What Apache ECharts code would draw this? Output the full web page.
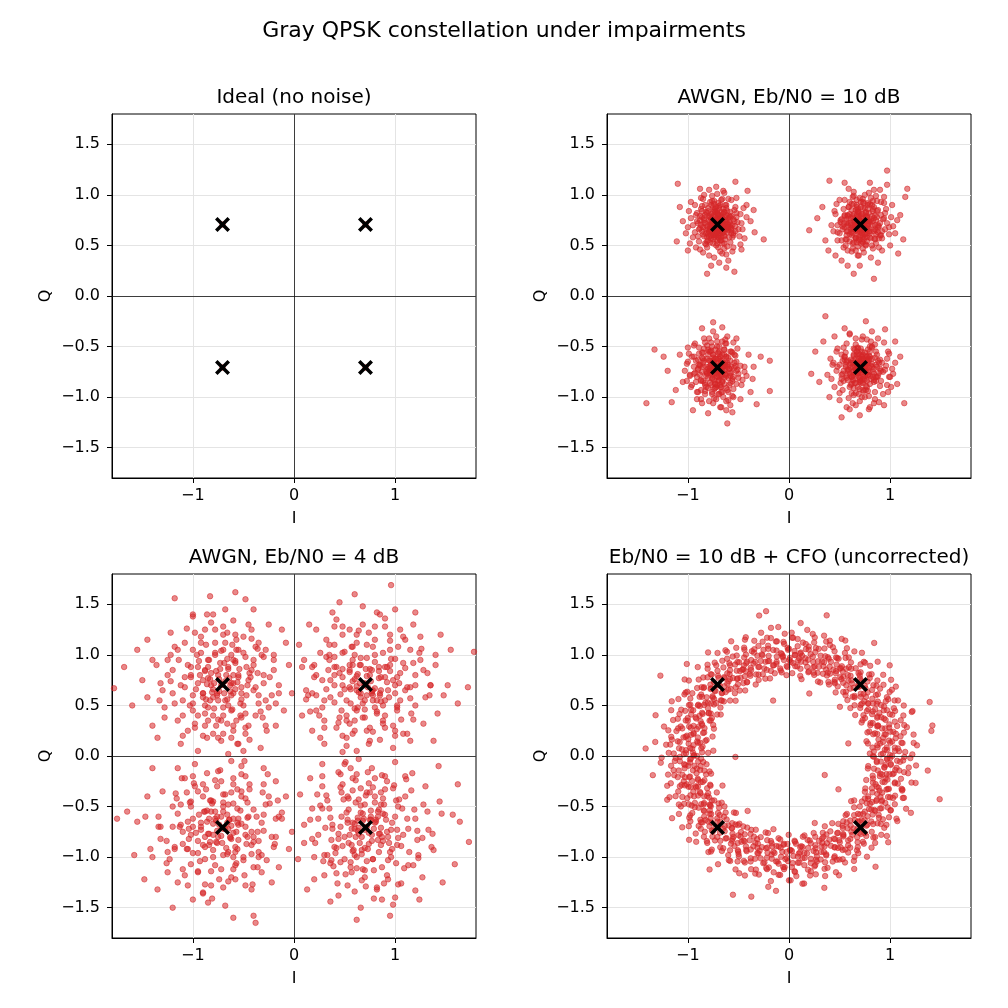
<!DOCTYPE html>
<html>
<head>
<meta charset="utf-8">
<script src="https://cdn.jsdelivr.net/npm/echarts@6/dist/echarts.min.js"></script>
<style>
html,body{margin:0;padding:0;background:#fff;}
#chart{width:1008px;height:1008px;}
</style>
</head>
<body>
<div id="chart"></div>
<script>
// ideal Gray QPSK points
const idealPts = [[0.707,0.707],[-0.707,0.707],[-0.707,-0.707],[0.707,-0.707]];

const xTicks = [-1, 0, 1];
const yTicks = [-1.5, -1, -0.5, 0, 0.5, 1, 1.5];

const panelTitles = ['Ideal (no noise)', 'AWGN, Eb/N0 = 10 dB', 'AWGN, Eb/N0 = 4 dB', 'Eb/N0 = 10 dB + CFO (uncorrected)'];

// AWGN 10 dB
const awgn10UL = [[-0.71,0.71],[-0.65,0.74],[-0.78,0.69],[-0.70,0.80],[-0.62,0.66],[-0.75,0.60],[-0.84,0.75],[-0.58,0.78],[-0.68,0.55],[-0.80,0.84],[-0.73,0.66],[-0.66,0.70],[-0.77,0.77],[-0.60,0.71],[-0.88,0.67],[-0.69,0.89],[-0.55,0.62],[-0.81,0.58],[-0.64,0.83],[-0.74,0.73],[-0.92,0.80],[-0.51,0.73],[-0.72,0.50],[-0.86,0.89],[-0.59,0.58],[-0.67,0.64],[-0.79,0.63],[-0.70,0.76],[-0.63,0.90],[-0.95,0.70],[-0.48,0.81],[-0.83,0.52],[-0.57,0.95],[-0.76,0.94],[-0.61,0.49],[-0.90,0.59],[-0.46,0.66],[-0.99,0.84],[-0.66,0.42],[-0.53,0.88],[-0.87,0.97],[-1.02,0.62],[-0.74,0.38],[-0.44,0.57],[-0.64,1.02],[-0.97,0.93],[-0.79,1.05],[-0.42,0.90],[-1.05,0.74],[-0.56,0.44],[-0.85,0.43],[-0.69,0.33],[-0.38,0.74],[-0.92,0.48],[-0.60,0.35],[-1.10,1.11],[-0.81,0.22],[-0.25,0.56],[-1.11,0.54],[-0.54,0.24],[-0.41,1.04],[-0.53,1.13],[-0.72,1.08],[-0.34,0.63],[-1.00,0.45],[-0.62,0.28],[-0.77,0.30],[-0.88,1.06],[-0.47,0.46],[-1.08,0.88],[-0.35,0.85],[-0.70,0.60],[-0.73,0.83],[-0.67,0.78],[-0.77,0.71],[-0.64,0.60],[-0.82,0.66],[-0.58,0.68],[-0.75,0.88],[-0.69,0.68],
[-.72,.69],[-.68,.73],[-.75,.74],[-.70,.66],[-.64,.69],[-.78,.71],[-.73,.78],[-.66,.77],[-.69,.62],[-.80,.66],[-.62,.74],[-.76,.63],[-.71,.82],[-.60,.65],[-.83,.72],[-.67,.58],[-.74,.85],[-.58,.71],[-.79,.79],[-.65,.81],
[-.86,.64],[-.71,.55],[-.55,.76],[-.82,.83],[-.63,.56],[-.77,.57],[-.69,.87],[-.57,.62],[-.88,.75],[-.73,.61],[-.61,.84],[-.84,.59],[-.66,.66],[-.75,.68],[-.70,.74],[-.79,.75],[-.63,.71],[-.72,.64],[-.68,.79],[-.77,.81],
[-.59,.79],[-.85,.68],[-.66,.52],[-.81,.54],[-.53,.69],[-.74,.91],[-.90,.72],[-.62,.90],[-.56,.58],[-.87,.86],[-.70,.48],[-.52,.82],[-.93,.63],[-.78,.93],[-.64,.47],[-.50,.66],[-.89,.54],[-.67,.95],[-.58,.53],[-.83,.90],
[-.73,.71],[-.69,.70],[-.76,.76],[-.65,.63],[-.71,.77],[-.80,.61],[-.61,.68],[-.74,.58],[-.67,.83],[-.78,.67],[-.63,.78],[-.72,.88],[-.86,.78],[-.57,.67],[-.75,.52],[-.91,.82],[-.54,.85],[-.81,.48],[-.60,.96],[-.95,.58],
[-.47,.72],[-.76,.99],[-.68,.44],[-.97,.77],[-.49,.59],[-.85,.96],[-.62,.41],[-.45,.87],[-1.0,.68],[-.71,1.01],[-.88,.46],[-.55,.48],[-.93,.90],[-.52,.97],[-.79,.40],[-.42,.78],[-.98,.52],[-.65,1.04],[-.84,1.00],[-.48,.51],
[-.70,.70],[-.73,.73],[-.67,.71],[-.74,.67],[-.69,.76],[-.76,.72],[-.66,.67],[-.72,.60],[-.63,.75],[-.78,.78],[-.68,.64],[-.81,.69],[-.71,.84],[-.61,.63],[-.75,.56],[-.84,.77],[-.65,.86],[-.79,.59],[-.59,.73],[-.73,.80],
[-.87,.70],[-.62,.80],[-.77,.65],[-.70,.58],[-.56,.70],[-.82,.62],[-.68,.90],[-.75,.83],[-.64,.59],[-.80,.87],[-.72,.75],[-.66,.73],[-.74,.62],[-.69,.67],[-.78,.74],[-.63,.66],[-.71,.63],[-.76,.69],[-.67,.78],[-.73,.67],
[-.60,.77],[-.85,.61],[-.57,.65],[-.83,.80],[-.71,.52],[-.62,.87],[-.89,.66],[-.77,.90],[-.54,.74],[-.67,.55],[-.80,.55],[-.58,.83],[-.86,.84],[-.64,.52],[-.74,.94],[-.91,.74],[-.55,.60],[-.70,.92],[-.82,.51],[-.52,.78],
[-.72,.68],[-.68,.72],[-.75,.79],[-.65,.70],[-.79,.64],[-.70,.81],[-.61,.71],[-.77,.60],[-.66,.62],[-.73,.86],[-.84,.72],[-.60,.68],[-.69,.57],[-.81,.82],[-.64,.83],[-.78,.53],[-.57,.79],[-.88,.79],[-.66,.96],[-.53,.64]];
const awgn10UR = [[0.71,0.71],[0.76,0.68],[0.65,0.74],[0.72,0.81],[0.80,0.62],[0.62,0.63],[0.69,0.58],[0.84,0.77],[0.58,0.80],[0.74,0.66],[0.67,0.88],[0.88,0.70],[0.55,0.68],[0.78,0.90],[0.63,0.52],[0.91,0.60],[0.70,0.75],[0.52,0.76],[0.82,0.50],[0.60,0.93],[0.95,0.82],[0.73,0.47],[0.48,0.63],[0.87,0.94],[0.66,0.65],[0.79,0.74],[0.57,0.56],[0.99,0.68],[0.64,0.99],[0.85,0.57],[0.45,0.84],[0.75,1.00],[0.92,0.45],[0.54,0.48],[1.02,0.90],[0.68,0.40],[0.42,0.70],[0.90,1.05],[0.59,1.06],[0.81,0.38],[1.05,0.62],[0.50,0.95],[0.77,0.58],[0.61,0.72],[0.97,1.10],[0.97,1.24],[1.17,1.06],[0.20,0.65],[0.84,0.17],[0.64,0.22],[0.40,1.14],[1.13,0.56],[1.08,0.42],[0.36,0.55],[0.46,0.40],[0.70,0.30],[0.88,0.33],[1.10,0.80],[0.33,0.88],[0.55,1.12],[0.80,1.12],[0.39,0.45],[1.00,0.50],[0.58,0.30],[0.94,0.92],[0.68,0.84],[0.74,0.61],[0.63,0.79],[0.83,0.84],[0.71,0.52],[0.86,0.65],[0.57,0.64],[0.77,0.79],[0.66,0.57],[0.73,0.93],[0.48,0.55],[1.07,0.75],[0.28,0.77],[1.15,0.98],[0.52,0.35],
[.70,.72],[.74,.68],[.67,.75],[.72,.65],[.78,.70],[.65,.69],[.71,.79],[.76,.76],[.63,.62],[.80,.64],[.68,.83],[.73,.59],[.61,.77],[.83,.74],[.66,.57],[.79,.82],[.58,.70],[.75,.87],[.85,.66],[.69,.63],
[.62,.85],[.87,.78],[.72,.54],[.57,.60],[.81,.57],[.64,.91],[.89,.69],[.76,.51],[.55,.79],[.84,.88],[.70,.68],[.74,.74],[.66,.71],[.77,.62],[.69,.77],[.73,.81],[.64,.66],[.80,.73],[.71,.60],[.67,.80],
[.90,.60],[.59,.88],[.78,.92],[.53,.66],[.86,.52],[.68,.49],[.93,.76],[.60,.54],[.81,.97],[.51,.75],[.95,.66],[.73,.96],[.56,.50],[.88,.85],[.63,.98],[.97,.72],[.50,.62],[.83,.47],[.66,.45],[.91,.93],
[.72,.71],[.69,.74],[.75,.70],[.65,.73],[.77,.78],[.70,.64],[.62,.67],[.79,.67],[.68,.86],[.74,.56],[.60,.81],[.85,.80],[.76,.83],[.57,.73],[.88,.63],[.67,.53],[.82,.90],[.54,.86],[.92,.57],[.71,.93],
[.48,.70],[.96,.86],[.62,.44],[.86,.99],[.46,.81],[.99,.61],[.74,.43],[.55,.95],[1.01,.78],[.79,1.02],[.52,.55],[.89,.48],[.64,1.03],[.44,.64],[.94,.98],[.69,.40],[1.03,.69],[.58,.45],[.84,1.05],[.47,.91],
[.71,.70],[.68,.73],[.74,.72],[.70,.66],[.65,.70],[.77,.67],[.72,.77],[.67,.64],[.79,.74],[.63,.77],[.75,.61],[.69,.83],[.82,.70],[.61,.66],[.76,.82],[.66,.58],[.84,.64],[.59,.72],[.73,.87],[.80,.58],
[.64,.81],[.86,.75],[.70,.56],[.57,.76],[.78,.86],[.62,.60],[.88,.68],[.67,.90],[.82,.79],[.73,.53],[.71,.74],[.66,.68],[.75,.65],[.69,.79],[.78,.71],[.64,.74],[.72,.62],[.68,.69],[.76,.78],[.61,.70],
[.90,.72],[.58,.64],[.74,.92],[.85,.56],[.55,.80],[.80,.91],[.64,.53],[.92,.64],[.67,.95],[.53,.69],[.87,.84],[.76,.50],[.59,.88],[.94,.77],[.63,.47],[.83,.94],[.51,.73],[.89,.57],[.70,.97],[.56,.56],
[.73,.70],[.70,.74],[.67,.78],[.77,.74],[.63,.68],[.75,.58],[.81,.76],[.66,.85],[.60,.61],[.79,.64],[.71,.88],[.85,.70],[.58,.79],[.69,.55],[.83,.86],[.62,.91],[.91,.80],[.77,.54],[.54,.71],[.86,.61]];
const awgn10LL = [[-0.71,-0.71],[-0.66,-0.75],[-0.77,-0.68],[-0.70,-0.62],[-0.63,-0.66],[-0.81,-0.77],[-0.74,-0.83],[-0.59,-0.72],[-0.85,-0.62],[-0.68,-0.88],[-0.78,-0.55],[-0.56,-0.82],[-0.90,-0.73],[-0.64,-0.58],[-0.73,-0.76],[-0.82,-0.90],[-0.60,-0.95],[-0.94,-0.60],[-0.52,-0.65],[-0.69,-0.50],[-0.87,-0.83],[-0.62,-0.79],[-0.76,-0.97],[-0.50,-0.77],[-0.98,-0.78],[-0.66,-0.45],[-0.84,-0.52],[-0.57,-0.55],[-0.72,-1.02],[-1.01,-0.67],[-0.47,-0.88],[-0.90,-0.95],[-0.79,-0.42],[-0.55,-1.00],[-1.05,-0.85],[-0.61,-0.40],[-0.44,-0.70],[-0.93,-0.47],[-0.67,-1.10],[-0.86,-1.06],[-0.40,-0.58],[-1.08,-0.58],[-0.75,-0.35],[-0.48,-1.02],[-1.41,-1.06],[-1.33,-0.53],[-0.19,-0.64],[-0.19,-0.94],[-0.61,-1.26],[-0.75,-0.26],[-0.32,-1.07],[-1.16,-1.05],[-1.24,-0.60],[-1.20,-0.74],[-0.36,-0.82],[-0.28,-0.60],[-0.95,-1.13],[-0.56,-1.15],[-0.86,-0.32],[-0.52,-0.42],[-1.12,-0.93],[-0.80,-1.16],[-0.38,-0.95],[-0.70,-0.80],[-0.75,-0.64],[-0.64,-0.69],[-0.80,-0.72],[-0.68,-0.60],[-0.58,-0.86],[-0.89,-0.68],[-0.72,-0.90],[-0.54,-0.58],[-0.96,-0.88],[-0.42,-0.79],[-0.83,-0.46],[-0.62,-1.04],[-1.00,-0.51],[-0.35,-0.70],[-0.66,-0.31],[-0.91,-1.02],
[-.70,-.72],[-.74,-.69],[-.67,-.75],[-.72,-.66],[-.77,-.73],[-.65,-.70],[-.71,-.80],[-.78,-.64],[-.63,-.78],[-.69,-.62],[-.82,-.75],[-.66,-.84],[-.75,-.58],[-.60,-.68],[-.80,-.81],[-.73,-.87],[-.62,-.60],[-.85,-.66],[-.68,-.90],[-.58,-.76],
[-.79,-.55],[-.88,-.78],[-.64,-.53],[-.56,-.84],[-.83,-.88],[-.71,-.50],[-.90,-.63],[-.61,-.93],[-.76,-.95],[-.54,-.66],[-.72,-.71],[-.68,-.68],[-.75,-.77],[-.66,-.64],[-.73,-.62],[-.63,-.73],[-.79,-.70],[-.70,-.84],[-.76,-.81],[-.64,-.87],
[-.86,-.56],[-.52,-.74],[-.92,-.85],[-.69,-.97],[-.58,-.55],[-.81,-.49],[-.94,-.70],[-.55,-.92],[-.74,-1.01],[-.87,-.93],[-.62,-.47],[-.50,-.81],[-.96,-.60],[-.65,-1.00],[-.83,-.97],[-.77,-.46],[-.53,-.59],[-.98,-.79],[-.60,-1.03],[-.89,-.51],
[-.71,-.74],[-.74,-.66],[-.67,-.79],[-.78,-.76],[-.64,-.67],[-.73,-.91],[-.81,-.62],[-.60,-.81],[-.85,-.84],[-.69,-.57],[-.77,-.88],[-.57,-.70],[-.88,-.69],[-.66,-.95],[-.80,-.53],[-.52,-.87],[-.93,-.76],[-.71,-.45],[-.56,-.99],[-.91,-.95],
[-.48,-.69],[-1.00,-.65],[-.75,-1.06],[-.63,-.43],[-.46,-.83],[-.97,-.90],[-.84,-.42],[-.58,-1.08],[-1.03,-.74],[-.79,-1.04],[-.51,-.52],[-.94,-.49],[-.68,-1.10],[-.44,-.75],[-1.01,-.84],[-.72,-.40],[-.87,-1.02],[-.55,-.46],[-.99,-.57],[-.62,-1.13],
[-.71,-.70],[-.68,-.73],[-.74,-.72],[-.70,-.66],[-.65,-.70],[-.77,-.67],[-.72,-.77],[-.67,-.64],[-.79,-.74],[-.63,-.77],[-.75,-.61],[-.69,-.83],[-.82,-.70],[-.61,-.66],[-.76,-.82],[-.66,-.58],[-.84,-.64],[-.59,-.72],[-.73,-.87],[-.80,-.58],
[-.64,-.81],[-.86,-.75],[-.70,-.56],[-.57,-.76],[-.78,-.86],[-.62,-.60],[-.88,-.68],[-.67,-.90],[-.82,-.79],[-.73,-.53],[-.71,-.74],[-.66,-.68],[-.75,-.65],[-.69,-.79],[-.78,-.71],[-.64,-.74],[-.72,-.62],[-.68,-.69],[-.76,-.78],[-.61,-.70],
[-.90,-.72],[-.58,-.64],[-.74,-.92],[-.85,-.56],[-.55,-.80],[-.80,-.91],[-.64,-.53],[-.92,-.64],[-.67,-.95],[-.53,-.69],[-.87,-.84],[-.76,-.50],[-.59,-.88],[-.94,-.77],[-.63,-.47],[-.83,-.94],[-.51,-.73],[-.89,-.57],[-.70,-.97],[-.56,-.56],
[-.73,-.70],[-.70,-.74],[-.67,-.78],[-.77,-.74],[-.63,-.68],[-.75,-.58],[-.81,-.76],[-.66,-.85],[-.60,-.61],[-.79,-.64],[-.71,-.88],[-.85,-.70],[-.58,-.79],[-.69,-.55],[-.83,-.86],[-.62,-.91],[-.91,-.80],[-.77,-.54],[-.54,-.71],[-.86,-.61]];
const awgn10LR = [[0.71,-0.71],[0.75,-0.66],[0.66,-0.76],[0.78,-0.78],[0.63,-0.64],[0.70,-0.85],[0.82,-0.70],[0.58,-0.74],[0.73,-0.58],[0.87,-0.80],[0.61,-0.88],[0.68,-0.52],[0.90,-0.63],[0.55,-0.60],[0.76,-0.93],[0.52,-0.82],[0.93,-0.75],[0.64,-0.98],[0.80,-0.50],[0.48,-0.70],[0.97,-0.88],[0.72,-0.43],[0.57,-0.47],[0.85,-1.02],[0.45,-0.90],[0.99,-0.57],[0.66,-1.08],[0.88,-0.42],[0.41,-0.62],[1.02,-0.72],[0.60,-0.38],[0.79,-1.12],[0.50,-1.03],[0.36,-0.20],[0.76,-0.25],[0.52,-1.20],[1.14,-1.06],[0.22,-0.77],[1.07,-0.87],[0.95,-0.33],[0.30,-0.85],[0.26,-0.55],[0.40,-1.00],[1.10,-0.60],[0.94,-1.08],[0.55,-0.32],[0.70,-1.18],[0.34,-0.45],[1.05,-0.45],[0.45,-0.40],[0.74,-0.74],[0.67,-0.69],[0.79,-0.62],[0.62,-0.80],[0.84,-0.85],[0.69,-0.62],[0.56,-0.68],[0.77,-0.84],[0.64,-0.58],[0.90,-0.72],[0.53,-0.93],[0.86,-0.55],[0.72,-1.00],[0.47,-0.55],[0.98,-0.95],[0.38,-0.78],[0.82,-0.35],[0.60,-1.12],[1.00,-0.80],[0.43,-0.68],
[.72,-.70],[.69,-.74],[.75,-.67],[.66,-.72],[.73,-.77],[.70,-.65],[.79,-.71],[.64,-.78],[.77,-.63],[.68,-.69],[.74,-.82],[.83,-.75],[.61,-.66],[.71,-.86],[.80,-.60],[.63,-.83],[.86,-.68],[.67,-.58],[.76,-.89],[.58,-.73],
[.84,-.83],[.72,-.55],[.60,-.90],[.89,-.76],[.65,-.53],[.78,-.94],[.55,-.63],[.87,-.58],[.69,-.97],[.57,-.81],[.71,-.69],[.74,-.73],[.67,-.67],[.76,-.76],[.69,-.80],[.73,-.62],[.63,-.70],[.80,-.79],[.66,-.86],[.78,-.66],
[.92,-.66],[.53,-.77],[.82,-.50],[.62,-.96],[.90,-.89],[.56,-.56],[.75,-1.00],[.95,-.73],[.51,-.86],[.85,-.95],[.66,-.48],[.97,-.62],[.59,-1.01],[.81,-.45],[.50,-.68],[.93,-.97],[.70,-1.04],[.54,-.51],[.99,-.80],[.77,-.43],
[.70,-.72],[.75,-.70],[.68,-.76],[.72,-.64],[.64,-.74],[.79,-.75],[.70,-.83],[.82,-.67],[.61,-.79],[.76,-.59],[.86,-.80],[.64,-.91],[.58,-.64],[.88,-.64],[.73,-.93],[.54,-.84],[.91,-.84],[.68,-.51],[.79,-.99],[.52,-.58],
[.96,-.69],[.63,-1.06],[.85,-.48],[.47,-.74],[1.01,-.90],[.73,-.40],[.57,-1.10],[.98,-.55],[.44,-.66],[.89,-1.05],[.66,-.42],[1.03,-.77],[.50,-.96],[.80,-1.10],[.48,-.52],[.94,-.46],[.60,-.37],[.84,-1.06],[.42,-.82],[1.05,-.66],
[.70,-.70],[.73,-.73],[.67,-.71],[.74,-.67],[.69,-.76],[.76,-.72],[.66,-.67],[.72,-.60],[.63,-.75],[.78,-.78],[.68,-.64],[.81,-.69],[.71,-.84],[.61,-.63],[.75,-.56],[.84,-.77],[.65,-.86],[.79,-.59],[.59,-.73],[.73,-.80],
[.87,-.70],[.62,-.80],[.77,-.65],[.70,-.58],[.56,-.70],[.82,-.62],[.68,-.90],[.75,-.83],[.64,-.59],[.80,-.87],[.72,-.75],[.66,-.73],[.74,-.62],[.69,-.67],[.78,-.74],[.63,-.66],[.71,-.63],[.76,-.69],[.67,-.78],[.73,-.67],
[.60,-.77],[.85,-.61],[.57,-.65],[.83,-.80],[.71,-.52],[.62,-.87],[.89,-.66],[.77,-.90],[.54,-.74],[.67,-.55],[.80,-.55],[.58,-.83],[.86,-.84],[.64,-.52],[.74,-.94],[.91,-.74],[.55,-.60],[.70,-.92],[.82,-.51],[.52,-.78],
[.72,-.68],[.68,-.72],[.75,-.79],[.65,-.70],[.79,-.64],[.70,-.81],[.61,-.71],[.77,-.60],[.66,-.62],[.73,-.86],[.84,-.72],[.60,-.68],[.69,-.57],[.81,-.82],[.64,-.83],[.78,-.53],[.57,-.79],[.88,-.79],[.66,-.96],[.53,-.64]];

// AWGN 4 dB
const awgn4UL = [[-0.71,0.71],[-0.55,0.80],[-0.90,0.62],[-0.62,0.45],[-0.85,0.95],[-0.40,0.65],[-1.02,0.78],[-0.70,1.05],[-0.48,0.98],[-0.95,0.40],[-0.60,0.30],[-1.20,0.85],[-0.30,0.80],[-0.78,1.25],[-1.10,0.55],[-0.50,0.50],[-0.82,0.70],[-0.65,0.88],[-0.38,0.40],[-1.30,0.65],[-0.20,0.95],[-0.92,1.12],[-0.58,1.20],[-1.05,0.25],[-0.75,0.18],[-0.28,0.55],[-1.40,0.95],[-0.45,1.30],[-0.88,0.85],[-0.60,0.62],[-1.15,1.05],[-0.15,0.70],[-0.72,0.35],[-1.00,1.38],[-0.35,1.12],[-1.28,0.38],[-0.55,0.12],[-0.85,0.48],[-0.42,0.85],[-1.50,0.75],[-0.10,0.45],[-0.95,0.05],[-0.68,1.45],[-1.22,1.22],[-0.25,1.30],[-1.60,0.50],[-0.48,0.22],[-1.78,0.67],[-1.18,1.56],[-0.83,1.58],[-0.08,1.12],[-0.02,0.62],[-1.35,0.18],[-0.58,1.62],[-0.33,0.08],[-1.45,1.15],[-0.75,0.80],[-0.62,0.72],[-0.80,0.58],[-0.52,0.68],[-0.95,0.88],[-0.68,0.55],[-0.45,0.75],[-0.88,0.30],[-1.08,0.68],[-0.32,1.00],[-0.78,1.00],[-0.60,0.95],[-1.00,0.52],[-0.18,0.30],[-1.25,0.95],[-0.52,0.38],[-0.70,0.22],[-0.40,1.45],[-1.55,1.05],[-0.98,1.22],[-0.05,0.90],[-1.40,0.30],[-0.27,0.25],[-0.65,0.02],[-0.86,1.40],[-1.12,0.12],[-0.12,1.25],[-1.68,0.88],[-0.48,1.55],[-1.33,0.55],[-0.22,0.60],[-0.90,0.75],[-0.57,1.05],[-0.76,0.62],
[-.68,.74],[-.80,.66],[-.60,.80],[-.75,.55],[-.85,.88],[-.52,.62],[-.95,.72],[-.66,.96],[-.43,.78],[-.88,.50],[-.70,.40],[-1.05,.90],[-.55,1.05],[-.35,.60],[-.78,1.12],[-1.00,.45],[-.48,.42],[-.62,.60],[-.73,.86],[-.90,.62],
[-.58,.92],[-.83,.76],[-.65,.50],[-.40,.95],[-1.12,.70],[-.77,.30],[-.30,.72],[-.92,1.02],[-.50,1.18],[-1.18,.52],[-.60,.25],[-.38,1.08],[-1.08,1.12],[-.85,.35],[-.25,.48],[-.70,1.28],[-1.25,.80],[-.45,.30],[-.98,.28],[-.63,.70],
[-.74,.64],[-.82,.82],[-.56,.73],[-.69,.92],[-.87,.56],[-.47,.88],[-.79,.47],[-.61,1.10],[-1.02,.80],[-.36,.82],[-.94,.94],[-.53,.52],[-.72,.15],[-1.15,.35],[-.20,.85],[-.88,1.25],[-.42,1.25],[-1.32,.72],[-.57,.35],[-1.00,1.05],
[-.31,.38],[-.66,1.22],[-1.22,1.00],[-.86,.18],[-.15,.62],[-.50,.05],[-1.45,.58],[-.80,1.40],[-.28,1.05],[-1.10,.20],
[-.72,.70],[-.64,.77],[-.81,.63],[-.58,.66],[-.77,.84],[-.86,.71],[-.66,.56],[-.54,.86],[-.93,.80],[-.70,.48],[-.46,.70],[-.84,.95],[-.62,1.00],[-1.00,.60],[-.75,.36],[-.40,.90],[-.96,1.00],[-.53,.40],[-1.08,.78],[-.68,1.12],
[-.35,.52],[-.88,.42],[-.57,1.15],[-1.14,.95],[-.80,.22],[-.30,.98],[-1.20,.62],[-.48,.28],[-.92,1.18],[-.62,.18],[-.74,.76],[-.69,.62],[-.79,.72],[-.60,.72],[-.83,.55],[-.65,.86],[-.73,.92],[-.88,.84],[-.52,.56],[-.97,.66],
[-.44,.82],[-.78,1.02],[-.61,.46],[-1.03,.50],[-.38,.68],[-.87,1.10],[-.50,1.02],[-1.10,.40],[-.70,1.20],[-.33,.44],[-1.18,1.08],[-.56,.12],[-.98,.32],[-.24,.78],[-.82,1.32],[-1.28,.48],[-.42,1.16],[-.66,.32],[-1.06,1.26],[-.28,.30],
[-.76,.60],[-.67,.80],[-.85,.77],[-.55,.78],[-.63,.64],[-.90,.58],[-.72,1.04],[-.47,.60],[-1.02,.88],[-.58,.94],[-.80,.40],[-.36,1.06],[-1.22,.74],[-.90,.20],[-.18,.52],[-.60,1.34],[-1.36,.90],[-.44,.16],[-1.00,1.40],[-.20,1.00]];
const awgn4UR = [[0.71,0.71],[0.85,0.62],[0.55,0.85],[0.62,0.45],[0.95,0.90],[0.40,0.70],[1.05,0.55],[0.72,1.10],[0.48,1.02],[0.88,0.35],[0.60,0.25],[1.20,0.80],[0.30,0.55],[0.80,1.28],[1.15,1.05],[0.45,0.38],[0.78,0.60],[0.65,0.90],[0.35,0.95],[1.30,0.58],[0.20,0.78],[0.95,1.20],[0.55,1.25],[1.08,0.22],[0.75,0.15],[0.25,0.40],[1.40,0.90],[0.42,1.35],[0.90,0.78],[0.62,0.65],[1.18,1.30],[0.12,0.65],[0.70,0.38],[1.00,1.45],[0.32,1.15],[1.28,0.32],[0.52,0.10],[0.88,0.50],[0.40,0.88],[1.52,0.70],[0.08,0.40],[0.98,0.08],[0.68,1.48],[1.25,1.18],[0.22,1.25],[1.62,0.52],[0.48,0.20],[1.78,1.03],[0.96,1.69],[0.45,1.52],[0.05,1.10],[0.10,0.95],[1.38,0.15],[0.60,1.60],[0.30,0.12],[1.45,1.20],[0.75,0.80],[0.65,0.72],[0.82,0.55],[0.55,0.68],[1.00,0.70],[0.70,0.55],[0.48,0.78],[0.90,0.28],[1.10,0.65],[0.35,1.00],[0.80,1.00],[0.58,0.95],[1.02,0.45],[0.18,0.25],[1.25,0.95],[0.52,0.40],[0.72,0.25],[0.38,1.42],[1.55,1.05],[1.05,1.25],[0.08,0.88],[1.42,0.42],[0.26,0.18],[0.62,0.05],[0.85,1.40],[1.15,0.15],[0.15,1.30],[1.72,0.68],[1.20,1.42],[1.35,0.70],[0.22,0.60],[0.92,0.88],[0.58,1.08],[0.78,0.65],
[.73,.68],[.62,.79],[.85,.60],[.68,.52],[.90,.88],[.50,.66],[.98,.75],[.72,.97],[.45,.82],[.82,.42],[.60,.35],[1.08,.92],[.57,1.08],[.36,.58],[.80,1.15],[1.02,.48],[.47,.45],[.66,.62],[.75,.86],[.93,.65],
[.55,.90],[.86,.78],[.63,.48],[.40,.98],[1.15,.68],[.75,.28],[.28,.75],[.95,1.05],[.48,1.20],[1.20,.50],[.58,.22],[.35,1.10],[1.10,1.15],[.88,.32],[.22,.45],[.68,1.30],[1.28,.85],[.42,.28],[1.00,.25],[.70,.70],
[.77,.62],[.84,.84],[.58,.74],[.66,.90],[.90,.55],[.48,.86],[.80,.48],[.62,1.12],[1.05,.82],[.34,.85],[.96,.96],[.52,.55],[.74,.12],[1.18,.36],[.18,.88],[.90,1.28],[.40,1.28],[1.35,.70],[.55,.32],[1.03,1.08],
[.30,.35],[.64,1.24],[1.24,1.02],[.85,.16],[.14,.60],[.48,.04],[1.48,.60],[.82,1.42],[.26,1.02],[1.12,.22],
[.70,.72],[.77,.64],[.63,.81],[.66,.58],[.84,.77],[.71,.86],[.56,.66],[.86,.54],[.80,.93],[.48,.70],[.70,.46],[.95,.84],[1.00,.62],[.60,1.00],[.36,.75],[.90,.40],[1.00,.96],[.40,.53],[.78,1.08],[1.12,.68],
[.52,.35],[.42,.88],[1.15,.57],[.95,1.14],[.22,.80],[.98,.30],[.62,1.20],[.28,.48],[1.18,.92],[.18,.62],[.76,.74],[.62,.69],[.72,.79],[.72,.60],[.55,.83],[.86,.65],[.92,.73],[.84,.88],[.56,.52],[.66,.97],
[.82,.44],[1.02,.78],[.46,.61],[.50,1.03],[.68,.38],[1.10,.87],[1.02,.50],[.40,1.10],[1.20,.70],[.44,.33],[1.08,1.18],[.12,.56],[.32,.98],[.78,.24],[1.32,.82],[.48,1.28],[1.16,.42],[.32,.66],[1.26,1.06],[.30,.28],
[.60,.76],[.80,.67],[.77,.85],[.78,.55],[.64,.63],[.58,.90],[1.04,.72],[.60,.47],[.88,1.02],[.94,.58],[.40,.80],[1.06,.36],[.74,1.22],[.20,.90],[.52,.18],[1.34,.60],[.90,1.36],[.16,.44],[1.40,1.00],[1.00,.20]];
const awgn4LL = [[-0.71,-0.71],[-0.55,-0.62],[-0.88,-0.80],[-0.65,-0.95],[-0.80,-0.45],[-0.42,-0.75],[-1.05,-0.65],[-0.72,-1.12],[-0.50,-1.00],[-0.95,-0.35],[-0.60,-0.28],[-1.18,-0.90],[-0.30,-0.58],[-0.82,-1.28],[-1.12,-0.48],[-0.48,-0.42],[-0.78,-0.62],[-0.62,-0.82],[-0.35,-0.95],[-1.32,-0.70],[-0.18,-0.80],[-0.95,-1.15],[-0.58,-1.22],[-1.08,-0.22],[-0.75,-0.15],[-0.25,-0.40],[-1.42,-0.92],[-0.42,-1.32],[-0.90,-0.88],[-0.60,-0.62],[-1.15,-1.25],[-0.12,-0.62],[-0.70,-0.38],[-1.00,-1.42],[-0.32,-1.15],[-1.30,-0.35],[-0.52,-0.10],[-0.88,-0.55],[-0.40,-0.85],[-1.55,-0.65],[-0.08,-0.40],[-0.98,-0.08],[-0.68,-1.48],[-1.25,-1.15],[-0.22,-1.25],[-1.65,-0.55],[-0.48,-0.20],[-1.75,-0.62],[-0.38,-1.65],[-0.40,-1.58],[-1.20,-1.50],[-0.05,-0.92],[-1.40,-0.12],[-0.60,-1.60],[-0.30,-0.12],[-1.48,-1.22],[-0.75,-0.80],[-0.65,-0.72],[-0.82,-0.55],[-0.55,-0.68],[-1.00,-0.70],[-0.70,-0.55],[-0.48,-0.78],[-0.90,-0.28],[-1.10,-0.75],[-0.35,-1.00],[-0.80,-1.00],[-0.58,-0.95],[-1.02,-0.45],[-0.18,-0.25],[-1.25,-0.95],[-0.52,-0.40],[-0.72,-0.25],[-0.85,-1.45],[-1.58,-0.98],[-1.05,-1.28],[-0.02,-0.75],[-1.45,-0.40],[-0.26,-0.18],[-0.62,-0.05],[-0.90,-1.35],[-1.15,-0.12],[-0.15,-1.10],[-1.35,-1.32],[-0.80,-0.78],[-0.66,-0.66],[-0.92,-0.70],[-0.58,-1.08],[-1.05,-0.92],[-0.45,-0.60],
[-.74,-.68],[-.63,-.80],[-.84,-.62],[-.70,-.50],[-.88,-.90],[-.52,-.67],[-.97,-.76],[-.70,-.98],[-.46,-.80],[-.83,-.44],[-.62,-.36],[-1.06,-.92],[-.57,-1.06],[-.37,-.60],[-.82,-1.14],[-1.03,-.46],[-.46,-.46],[-.64,-.63],[-.76,-.86],[-.92,-.66],
[-.56,-.92],[-.85,-.77],[-.65,-.48],[-.42,-.97],[-1.13,-.70],[-.76,-.30],[-.30,-.74],[-.93,-1.04],[-.49,-1.18],[-1.20,-.50],[-.60,-.22],[-.36,-1.10],[-1.10,-1.12],[-.87,-.33],[-.24,-.47],[-.70,-1.30],[-1.26,-.84],[-.44,-.28],[-.99,-.27],[-.68,-.72],
[-.76,-.60],[-.83,-.85],[-.57,-.75],[-.67,-.91],[-.89,-.55],[-.47,-.87],[-.81,-.47],[-.60,-1.12],[-1.04,-.82],[-.35,-.84],[-.95,-.96],[-.53,-.54],[-.73,-.14],[-1.17,-.37],[-.19,-.87],[-.88,-1.27],[-.41,-1.27],[-1.34,-.70],[-.56,-.33],[-1.02,-1.07],
[-.31,-.36],[-.65,-1.24],[-1.23,-1.02],[-.86,-.17],[-.15,-.60],[-.49,-.05],[-1.47,-.60],[-.81,-1.41],[-.27,-1.03],[-1.11,-.22],
[-.70,-.72],[-.77,-.64],[-.63,-.81],[-.66,-.58],[-.84,-.77],[-.71,-.86],[-.56,-.66],[-.86,-.54],[-.80,-.93],[-.48,-.70],[-.70,-.46],[-.95,-.84],[-1.00,-.62],[-.60,-1.00],[-.36,-.75],[-.90,-.40],[-1.00,-.96],[-.40,-.53],[-.78,-1.08],[-1.12,-.68],
[-.52,-.35],[-.42,-.88],[-1.15,-.57],[-.95,-1.14],[-.22,-.80],[-.98,-.30],[-.62,-1.20],[-.28,-.48],[-1.18,-.92],[-.18,-.62],[-.76,-.74],[-.62,-.69],[-.72,-.79],[-.72,-.60],[-.55,-.83],[-.86,-.65],[-.92,-.73],[-.84,-.88],[-.56,-.52],[-.66,-.97],
[-.82,-.44],[-1.02,-.78],[-.46,-.61],[-.50,-1.03],[-.68,-.38],[-1.10,-.87],[-1.02,-.50],[-.40,-1.10],[-1.20,-.70],[-.44,-.33],[-1.08,-1.18],[-.12,-.56],[-.32,-.98],[-.78,-.24],[-1.32,-.82],[-.48,-1.28],[-1.16,-.42],[-.32,-.66],[-1.26,-1.06],[-.30,-.28],
[-.60,-.76],[-.80,-.67],[-.77,-.85],[-.78,-.55],[-.64,-.63],[-.58,-.90],[-1.04,-.72],[-.60,-.47],[-.88,-1.02],[-.94,-.58],[-.40,-.80],[-1.06,-.36],[-.74,-1.22],[-.20,-.90],[-.52,-.18],[-1.34,-.60],[-.90,-1.36],[-.16,-.44],[-1.40,-1.00],[-1.00,-.20]];
const awgn4LR = [[0.71,-0.71],[0.83,-0.60],[0.57,-0.88],[0.64,-0.43],[0.97,-0.92],[0.38,-0.72],[1.07,-0.52],[0.70,-1.13],[0.46,-1.05],[0.90,-0.33],[0.58,-0.22],[1.22,-0.83],[0.28,-0.52],[0.82,-1.30],[1.13,-1.08],[0.47,-0.36],[0.76,-0.63],[0.67,-0.93],[0.33,-0.98],[1.32,-0.55],[0.18,-0.82],[0.93,-1.22],[0.53,-1.28],[1.10,-0.20],[0.77,-0.12],[0.23,-0.38],[1.38,-0.93],[0.44,-1.38],[0.92,-0.75],[0.60,-0.67],[1.20,-1.33],[0.10,-0.68],[0.72,-0.36],[0.98,-1.47],[0.30,-1.18],[1.30,-0.30],[0.50,-0.08],[0.86,-0.48],[0.42,-0.91],[1.57,-0.58],[0.06,-0.38],[1.00,-0.06],[0.66,-1.50],[1.27,-1.20],[0.20,-1.22],[1.64,-0.65],[0.46,-0.18],[1.73,-0.85],[0.95,-1.58],[0.04,-1.02],[1.43,-0.10],[0.62,-1.62],[0.28,-0.08],[1.47,-1.25],[0.77,-0.78],[0.63,-0.74],[0.84,-0.53],[0.53,-0.66],[1.02,-0.73],[0.68,-0.57],[0.50,-0.80],[0.92,-0.25],[1.12,-0.62],[0.37,-1.03],[0.78,-1.02],[0.60,-0.98],[1.04,-0.43],[0.16,-0.22],[1.23,-0.98],[0.54,-0.42],[0.74,-0.27],[0.36,-1.44],[1.59,-1.07],[1.03,-1.27],[0.10,-0.86],[1.44,-0.45],[0.28,-0.20],[0.64,-0.03],[0.87,-1.42],[1.17,-0.17],[0.13,-1.32],[1.62,-0.28],[1.24,-1.42],[1.37,-0.77],[0.24,-0.62],[0.94,-0.86],[0.56,-1.10],[0.80,-0.66],[0.68,-0.64],[0.87,-0.80],
[.70,-.73],[.81,-.65],[.61,-.80],[.76,-.54],[.86,-.88],[.53,-.63],[.96,-.73],[.67,-.97],[.44,-.77],[.89,-.48],[.71,-.39],[1.06,-.89],[.56,-1.05],[.36,-.61],[.79,-1.13],[1.01,-.44],[.49,-.43],[.63,-.61],[.74,-.87],[.91,-.63],
[.59,-.93],[.84,-.77],[.66,-.49],[.41,-.96],[1.13,-.72],[.78,-.31],[.31,-.71],[.93,-1.03],[.51,-1.17],[1.19,-.53],[.61,-.24],[.39,-1.09],[1.09,-1.11],[.86,-.36],[.26,-.49],[.71,-1.29],[1.27,-.81],[.46,-.31],[.99,-.29],[.64,-.71],
[.75,-.63],[.83,-.83],[.57,-.72],[.70,-.91],[.88,-.57],[.48,-.89],[.80,-.46],[.62,-1.11],[1.03,-.81],[.37,-.83],[.95,-.95],[.54,-.53],[.73,-.16],[1.16,-.34],[.21,-.86],[.89,-1.26],[.43,-1.26],[1.33,-.73],[.58,-.34],[1.01,-1.06],
[.32,-.39],[.67,-1.23],[1.23,-1.01],[.87,-.19],[.16,-.63],[.51,-.06],[1.46,-.57],[.79,-1.41],[.29,-1.04],[1.11,-.23],
[.72,-.70],[.64,-.77],[.81,-.63],[.58,-.66],[.77,-.84],[.86,-.71],[.66,-.56],[.54,-.86],[.93,-.80],[.70,-.48],[.46,-.70],[.84,-.95],[.62,-1.00],[1.00,-.60],[.75,-.36],[.40,-.90],[.96,-1.00],[.53,-.40],[1.08,-.78],[.68,-1.12],
[.35,-.52],[.88,-.42],[.57,-1.15],[1.14,-.95],[.80,-.22],[.30,-.98],[1.20,-.62],[.48,-.28],[.92,-1.18],[.62,-.18],[.74,-.76],[.69,-.62],[.79,-.72],[.60,-.72],[.83,-.55],[.65,-.86],[.73,-.92],[.88,-.84],[.52,-.56],[.97,-.66],
[.44,-.82],[.78,-1.02],[.61,-.46],[1.03,-.50],[.38,-.68],[.87,-1.10],[.50,-1.02],[1.10,-.40],[.70,-1.20],[.33,-.44],[1.18,-1.08],[.56,-.12],[.98,-.32],[.24,-.78],[.82,-1.32],[1.28,-.48],[.42,-1.16],[.66,-.32],[1.06,-1.26],[.28,-.30],
[.76,-.60],[.67,-.80],[.85,-.77],[.55,-.78],[.63,-.64],[.90,-.58],[.72,-1.04],[.47,-.60],[1.02,-.88],[.58,-.94],[.80,-.40],[.36,-1.06],[1.22,-.74],[.90,-.20],[.18,-.52],[.60,-1.34],[1.36,-.90],[.44,-.16],[1.00,-1.40],[.20,-1.00]];

// CFO ring: [radius, angle in degrees]
const cfoRingA = [[1.02,0],[0.91,1],[1.15,2],[0.84,3],[1.08,4],[0.97,5],[1.24,6],[0.88,7],[1.03,8],[0.79,9],[1.12,10],[0.95,11],[1.45,12],[1.06,13],[0.90,14],[1.18,15],[0.99,16],[0.83,17],[1.10,18],[0.93,19],[1.30,20],[1.49,21],[1.01,21.5],[0.87,22],[1.14,23],[0.60,12],[0.96,24],[1.07,25],[0.81,26],[1.21,27],[0.94,28],[1.04,29],
[0.89,30],[1.13,31],[0.98,32],[1.26,33],[0.85,34],[1.05,35],[0.92,36],[1.17,37],[0.77,38],[1.00,39],[1.09,40],[0.94,41],[1.34,42],[0.86,43],[1.11,44],[0.97,45],[1.03,46],[0.82,47],[1.20,48],[0.95,49],[1.07,50],[0.90,51],[1.15,52],[1.40,53],[0.99,54],[0.84,55],[1.06,56],[0.93,57],[1.22,58],[0.88,59],[1.01,59.5],[0.70,44],
[1.12,60],[0.96,61],[0.83,62],[1.08,63],[1.27,64],[0.91,65],[1.02,66],[0.79,67],[1.16,68],[0.95,69],[1.05,70],[0.87,71],[1.19,72],[0.98,73],[1.44,75],[0.92,74],[1.10,76],[0.85,77],[1.03,78],[1.23,79],[0.94,80],[1.07,81],[0.80,82],[1.13,83],[0.97,84],[1.32,85],[0.89,86],[1.04,87],[1.17,88],[0.93,89],[0.65,72],[1.00,82.5],
[1.06,90],[0.88,91],[1.21,92],[0.95,93],[1.01,94],[0.83,95],[1.14,96],[0.99,97],[1.45,99],[1.28,98],[0.91,100],[1.08,101],[0.86,102],[1.42,102],[1.16,103],[0.96,104],[1.04,105],[0.57,106],[0.80,107],[1.11,108],[0.93,109],[1.25,110],[0.98,111],[0.87,112],[1.09,113],[1.02,114],[0.78,115],[1.19,116],[0.94,117],[1.05,118],[0.90,119],[1.13,119.5],
[0.97,120],[1.22,121],[0.85,122],[1.07,123],[0.92,124],[1.15,125],[1.00,126],[0.81,127],[1.30,128],[0.95,129],[1.10,130],[0.88,131],[1.04,132],[1.18,133],[0.76,134],[0.99,135],[1.12,136],[0.91,137],[1.36,138],[1.02,139],[0.84,140],[1.08,141],[0.96,142],[1.24,143],[0.89,144],[1.06,145],[0.93,146],[1.50,148],[1.14,147],[0.98,149],[0.82,150],[1.20,149.5],
[1.03,151],[0.90,152],[1.11,153],[0.95,154],[1.28,155],[0.86,156],[1.05,157],[0.99,158],[1.16,159],[0.79,160],[1.08,161],[0.94,162],[1.38,163],[1.01,164],[0.88,165],[1.13,166],[0.97,167],[1.22,168],[0.83,169],[1.06,170],[0.92,171],[1.17,172],[1.00,173],[1.33,174],[0.87,175],[1.09,176],[1.42,177],[0.95,178],[1.04,179],[0.53,181],[0.75,176],[1.19,178.5],
[0.91,180],[1.12,181],[0.98,182],[1.27,183],[0.85,184],[1.03,185],[0.94,186],[1.15,187],[1.36,188],[0.89,189],[1.07,190],[0.80,191],[1.01,192],[1.20,193],[0.93,194],[1.10,195],[0.87,196],[1.04,197],[0.97,198],[1.25,199],[0.83,200],[1.13,201],[0.95,202],[1.02,203],[0.72,204],[1.18,205],[0.90,206],[1.08,207],[1.31,208],[0.96,209],[0.88,210],[1.05,195.5],
[1.14,211],[0.92,212],[1.00,213],[0.84,214],[1.21,215],[0.97,216],[1.09,217],[0.81,218],[1.03,219],[1.29,220],[0.94,221],[1.12,222],[0.88,223],[1.06,224],[0.99,225],[1.17,226],[0.77,227],[1.02,228],[0.91,229],[1.24,230],[1.08,231],[0.86,232],[1.13,233],[0.95,234],[1.37,235],[1.01,236],[0.83,237],[1.10,238],[0.93,239],[1.19,240],[0.68,233],[1.04,217.5],
[0.97,241],[1.07,242],[0.82,243],[1.16,244],[0.92,245],[1.03,246],[1.26,247],[1.48,248],[0.88,249],[1.11,250],[0.96,251],[1.01,252],[0.79,253],[1.21,254],[1.44,255],[0.94,256],[1.08,257],[0.86,258],[1.14,259],[0.99,260],[1.31,261],[0.90,262],[1.05,263],[0.83,264],[1.18,265],[0.95,266],[1.10,267],[1.02,268],[0.87,269],[1.23,270],[0.74,258],[1.34,264.5],
[0.93,271],[1.06,272],[1.15,273],[0.85,274],[1.00,275],[1.27,276],[0.91,277],[1.09,278],[0.97,279],[1.20,280],[0.80,281],[1.04,282],[1.12,283],[0.89,284],[1.35,285],[0.95,286],[1.07,287],[0.84,288],[1.17,289],[1.01,290],[0.92,291],[1.24,292],[0.87,293],[1.10,294],[0.98,295],[1.14,296],[0.78,297],[1.03,298],[0.94,299],[1.29,300],[1.06,284.5],[0.71,291],
[1.08,301],[0.90,302],[1.19,303],[0.96,304],[1.02,305],[0.83,306],[1.13,307],[1.39,308],[0.92,309],[1.05,310],[0.87,311],[1.22,312],[0.99,313],[1.10,314],[0.81,315],[1.16,316],[0.95,317],[1.03,318],[1.30,319],[0.89,320],[1.07,321],[0.93,322],[1.18,323],[0.76,324],[1.01,325],[1.12,326],[0.97,327],[0.59,326],[0.85,328],[1.25,329],[1.04,330],[0.40,332],
[0.94,331],[1.14,332],[0.88,333],[1.06,334],[1.33,335],[0.99,336],[0.82,337],[1.11,338],[0.96,339],[1.21,340],[1.02,341],[0.90,342],[1.17,343],[1.55,344],[0.86,345],[1.08,346],[0.98,347],[1.28,348],[0.92,349],[1.04,350],[0.79,351],[1.15,352],[0.95,353],[1.38,354],[1.01,355],[0.87,356],[1.10,357],[0.97,358],[1.20,359],[0.84,359.5],[1.06,352.5],[1.43,10]];
const cfoRingB = [[1.00,.5],[.93,1.5],[1.09,2.5],[.97,3.5],[1.05,4.5],[.88,5.5],[1.13,6.5],[1.01,7.5],[.94,8.5],[1.07,9.5],[.90,10.5],[1.16,11.5],[.98,12.5],[1.03,13.5],[.86,14.5],[1.11,15.5],[.96,16.5],[1.04,17.5],[.92,18.5],[1.20,19.5],
[1.02,20.5],[.89,21.5],[1.08,22.5],[.95,23.5],[1.14,24.5],[.99,25.5],[.84,26.5],[1.06,27.5],[.97,28.5],[1.10,29.5],[.91,30.5],[1.03,31.5],[1.18,32.5],[.94,33.5],[1.00,34.5],[.87,35.5],[1.12,36.5],[.96,37.5],[1.05,38.5],[.92,39.5],
[1.15,40.5],[1.01,41.5],[.88,42.5],[1.07,43.5],[.98,44.5],[1.13,45.5],[.93,46.5],[1.04,47.5],[.85,48.5],[1.09,49.5],[.97,50.5],[1.19,51.5],[1.00,52.5],[.90,53.5],[1.06,54.5],[.95,55.5],[1.11,56.5],[.99,57.5],[.86,58.5],[1.03,59.5],
[.94,60.5],[1.16,61.5],[1.02,62.5],[.91,63.5],[1.08,64.5],[.97,65.5],[1.13,66.5],[.88,67.5],[1.05,68.5],[.99,69.5],[1.21,70.5],[.93,71.5],[1.04,72.5],[.86,73.5],[1.10,74.5],[.96,75.5],[1.01,76.5],[1.15,77.5],[.90,78.5],[1.07,79.5],
[.98,80.5],[1.12,81.5],[.87,82.5],[1.03,83.5],[.95,84.5],[1.09,85.5],[1.00,86.5],[.92,87.5],[1.17,88.5],[.97,89.5],[1.05,90.5],[.89,91.5],[1.11,92.5],[.99,93.5],[1.02,94.5],[.85,95.5],[1.14,96.5],[.94,97.5],[1.06,98.5],[.91,99.5],
[1.19,100.5],[1.01,101.5],[.96,102.5],[1.08,103.5],[.88,104.5],[1.13,105.5],[.98,106.5],[1.04,107.5],[.93,108.5],[1.10,109.5],[.86,110.5],[1.02,111.5],[1.16,112.5],[.95,113.5],[1.07,114.5],[.90,115.5],[1.00,116.5],[1.12,117.5],[.97,118.5],[.84,119.5],
[1.05,120.5],[.99,121.5],[1.14,122.5],[.92,123.5],[1.03,124.5],[.87,125.5],[1.09,126.5],[.96,127.5],[1.18,128.5],[1.01,129.5],[.94,130.5],[1.06,131.5],[.89,132.5],[1.11,133.5],[.98,134.5],[1.04,135.5],[.91,136.5],[1.15,137.5],[.97,138.5],[1.02,139.5],
[.86,140.5],[1.08,141.5],[.95,142.5],[1.13,143.5],[1.00,144.5],[.90,145.5],[1.06,146.5],[.98,147.5],[1.20,148.5],[.93,149.5],[1.03,150.5],[.88,151.5],[1.10,152.5],[.96,153.5],[1.05,154.5],[.85,155.5],[1.12,156.5],[1.00,157.5],[.94,158.5],[1.07,159.5],
[.91,160.5],[1.16,161.5],[.99,162.5],[1.03,163.5],[.87,164.5],[1.09,165.5],[.97,166.5],[1.14,167.5],[.92,168.5],[1.04,169.5],[1.01,170.5],[.89,171.5],[1.11,172.5],[.95,173.5],[1.18,174.5],[.98,175.5],[1.06,176.5],[.86,177.5],[1.02,178.5],[.94,179.5],
[1.08,180.5],[.97,181.5],[1.13,182.5],[.90,183.5],[1.04,184.5],[1.00,185.5],[.88,186.5],[1.10,187.5],[.96,188.5],[1.15,189.5],[.93,190.5],[1.05,191.5],[.84,192.5],[1.07,193.5],[.99,194.5],[1.12,195.5],[.91,196.5],[1.02,197.5],[.95,198.5],[1.19,199.5],
[1.01,200.5],[.87,201.5],[1.09,202.5],[.98,203.5],[1.14,204.5],[.93,205.5],[1.04,206.5],[.89,207.5],[1.06,208.5],[.97,209.5],[1.11,210.5],[.92,211.5],[1.00,212.5],[1.17,213.5],[.95,214.5],[1.03,215.5],[.86,216.5],[1.08,217.5],[.99,218.5],[1.13,219.5],
[.90,220.5],[1.05,221.5],[.96,222.5],[1.16,223.5],[1.02,224.5],[.88,225.5],[1.10,226.5],[.94,227.5],[1.07,228.5],[.98,229.5],[1.20,230.5],[.91,231.5],[1.03,232.5],[.85,233.5],[1.12,234.5],[.97,235.5],[1.04,236.5],[.93,237.5],[1.15,238.5],[1.00,239.5],
[.89,240.5],[1.06,241.5],[.95,242.5],[1.11,243.5],[.99,244.5],[1.02,245.5],[.87,246.5],[1.14,247.5],[.96,248.5],[1.08,249.5],[.92,250.5],[1.18,251.5],[1.01,252.5],[.94,253.5],[1.05,254.5],[.86,255.5],[1.09,256.5],[.98,257.5],[1.13,258.5],[.91,259.5],
[1.03,260.5],[.97,261.5],[1.16,262.5],[.90,263.5],[1.07,264.5],[1.00,265.5],[.88,266.5],[1.12,267.5],[.95,268.5],[1.04,269.5],[.93,270.5],[1.10,271.5],[.99,272.5],[1.19,273.5],[.87,274.5],[1.06,275.5],[.96,276.5],[1.02,277.5],[.91,278.5],[1.14,279.5],
[.98,280.5],[1.08,281.5],[.85,282.5],[1.11,283.5],[.97,284.5],[1.03,285.5],[.92,286.5],[1.17,287.5],[1.00,288.5],[.89,289.5],[1.05,290.5],[.96,291.5],[1.13,292.5],[.94,293.5],[1.09,294.5],[.86,295.5],[1.01,296.5],[1.15,297.5],[.93,298.5],[1.04,299.5],
[.99,300.5],[1.12,301.5],[.90,302.5],[1.06,303.5],[.95,304.5],[1.18,305.5],[1.02,306.5],[.87,307.5],[1.09,308.5],[.97,309.5],[1.14,310.5],[.92,311.5],[1.03,312.5],[.88,313.5],[1.07,314.5],[1.00,315.5],[.94,316.5],[1.11,317.5],[.96,318.5],[1.20,319.5],
[.91,320.5],[1.04,321.5],[.98,322.5],[1.13,323.5],[.86,324.5],[1.08,325.5],[.95,326.5],[1.01,327.5],[1.16,328.5],[.93,329.5],[1.05,330.5],[.89,331.5],[1.10,332.5],[.97,333.5],[1.02,334.5],[1.15,335.5],[.90,336.5],[1.06,337.5],[.99,338.5],[1.12,339.5],
[.94,340.5],[1.03,341.5],[.87,342.5],[1.17,343.5],[.96,344.5],[1.08,345.5],[1.00,346.5],[.92,347.5],[1.13,348.5],[.98,349.5],[1.05,350.5],[.85,351.5],[1.10,352.5],[.95,353.5],[1.19,354.5],[1.01,355.5],[.91,356.5],[1.07,357.5],[.97,358.5],[1.14,359.5]];
const cfoRingC = [[1.22,.75],[.80,1.75],[1.05,2.75],[.95,3.75],[1.27,4.75],[.83,5.75],[1.12,6.75],[.91,7.75],[1.00,8.75],[1.25,9.75],[.78,10.75],[1.08,11.75],[.97,12.75],[1.20,13.75],[.88,14.75],[1.03,15.75],[.81,16.75],[1.16,17.75],[.93,18.75],[1.29,19.75],
[.86,20.75],[1.10,21.75],[.99,22.75],[1.24,23.75],[.79,24.75],[1.04,25.75],[.92,26.75],[1.18,27.75],[.84,28.75],[1.13,29.75],[1.01,30.75],[.77,31.75],[1.21,32.75],[.94,33.75],[1.07,34.75],[.89,35.75],[1.26,36.75],[.82,37.75],[1.11,38.75],[.96,39.75],
[1.23,40.75],[.87,41.75],[1.02,42.75],[.80,43.75],[1.15,44.75],[.98,45.75],[1.28,46.75],[.90,47.75],[1.06,48.75],[.83,49.75],[1.19,50.75],[.95,51.75],[1.09,52.75],[.78,53.75],[1.25,54.75],[.92,55.75],[1.03,56.75],[.85,57.75],[1.14,58.75],[1.00,59.75],
[.81,60.75],[1.21,61.75],[.96,62.75],[1.08,63.75],[.88,64.75],[1.27,65.75],[.93,66.75],[1.04,67.75],[.79,68.75],[1.17,69.75],[.99,70.75],[1.12,71.75],[.84,72.75],[1.24,73.75],[.91,74.75],[1.06,75.75],[.86,76.75],[1.20,77.75],[.97,78.75],[1.10,79.75],
[.77,80.75],[1.26,81.75],[.94,82.75],[1.02,83.75],[.89,84.75],[1.16,85.75],[1.00,86.75],[.82,87.75],[1.22,88.75],[.95,89.75],[1.07,90.75],[.80,91.75],[1.13,92.75],[.98,93.75],[1.28,94.75],[.87,95.75],[1.05,96.75],[.92,97.75],[1.18,98.75],[.83,99.75],
[1.11,100.75],[.96,101.75],[1.25,102.75],[.79,103.75],[1.03,104.75],[.90,105.75],[1.19,106.75],[.85,107.75],[1.08,108.75],[.99,109.75],[1.23,110.75],[.81,111.75],[1.14,112.75],[.93,113.75],[1.01,114.75],[.88,115.75],[1.27,116.75],[.97,117.75],[1.06,118.75],[.84,119.75],
[1.20,120.75],[.91,121.75],[1.09,122.75],[.78,123.75],[1.24,124.75],[.95,125.75],[1.02,126.75],[.86,127.75],[1.15,128.75],[1.00,129.75],[.82,130.75],[1.21,131.75],[.94,132.75],[1.12,133.75],[.89,134.75],[1.26,135.75],[.80,136.75],[1.05,137.75],[.98,138.75],[1.17,139.75],
[.87,140.75],[1.10,141.75],[.93,142.75],[1.28,143.75],[.83,144.75],[1.04,145.75],[.96,146.75],[1.19,147.75],[.79,148.75],[1.13,149.75],[1.01,150.75],[.90,151.75],[1.23,152.75],[.85,153.75],[1.07,154.75],[.97,155.75],[1.16,156.75],[.81,157.75],[1.25,158.75],[.92,159.75],
[1.06,160.75],[.88,161.75],[1.20,162.75],[.95,163.75],[1.11,164.75],[.78,165.75],[1.27,166.75],[.99,167.75],[1.03,168.75],[.84,169.75],[1.18,170.75],[.91,171.75],[1.09,172.75],[.86,173.75],[1.22,174.75],[.96,175.75],[1.02,176.75],[.80,177.75],[1.14,178.75],[.94,179.75],
[1.26,180.75],[.87,181.75],[1.08,182.75],[.98,183.75],[1.17,184.75],[.82,185.75],[1.04,186.75],[.92,187.75],[1.21,188.75],[.85,189.75],[1.12,190.75],[1.00,191.75],[.79,192.75],[1.24,193.75],[.93,194.75],[1.07,195.75],[.89,196.75],[1.15,197.75],[.97,198.75],[1.28,199.75],
[.83,200.75],[1.05,201.75],[.95,202.75],[1.19,203.75],[.88,204.75],[1.10,205.75],[.80,206.75],[1.23,207.75],[.99,208.75],[1.03,209.75],[.86,210.75],[1.16,211.75],[.92,212.75],[1.27,213.75],[.81,214.75],[1.08,215.75],[.96,216.75],[1.13,217.75],[.90,218.75],[1.20,219.75],
[1.01,220.75],[.84,221.75],[1.25,222.75],[.94,223.75],[1.06,224.75],[.78,225.75],[1.18,226.75],[.97,227.75],[1.11,228.75],[.87,229.75],[1.22,230.75],[.91,231.75],[1.02,232.75],[.83,233.75],[1.15,234.75],[.99,235.75],[1.28,236.75],[.89,237.75],[1.04,238.75],[.82,239.75],
[1.19,240.75],[.95,241.75],[1.09,242.75],[.86,243.75],[1.24,244.75],[.80,245.75],[1.13,246.75],[1.00,247.75],[.92,248.75],[1.26,249.75],[.85,250.75],[1.07,251.75],[.98,252.75],[1.17,253.75],[.79,254.75],[1.21,255.75],[.93,256.75],[1.03,257.75],[.88,258.75],[1.12,259.75],
[.96,260.75],[1.25,261.75],[.82,262.75],[1.05,263.75],[.91,264.75],[1.18,265.75],[.87,266.75],[1.10,267.75],[1.01,268.75],[.78,269.75],[1.23,270.75],[.94,271.75],[1.14,272.75],[.84,273.75],[1.06,274.75],[.97,275.75],[1.27,276.75],[.90,277.75],[1.02,278.75],[.81,279.75],
[1.16,280.75],[.93,281.75],[1.20,282.75],[.86,283.75],[1.08,284.75],[.99,285.75],[1.24,286.75],[.80,287.75],[1.11,288.75],[.95,289.75],[1.04,290.75],[.88,291.75],[1.28,292.75],[.83,293.75],[1.13,294.75],[.92,295.75],[1.01,296.75],[1.19,297.75],[.85,298.75],[1.07,299.75],
[.97,300.75],[1.22,301.75],[.79,302.75],[1.09,303.75],[.94,304.75],[1.15,305.75],[.89,306.75],[1.26,307.75],[1.00,308.75],[.84,309.75],[1.12,310.75],[.96,311.75],[1.05,312.75],[.81,313.75],[1.21,314.75],[.91,315.75],[1.17,316.75],[.87,317.75],[1.03,318.75],[.98,319.75],
[1.25,320.75],[.82,321.75],[1.10,322.75],[.93,323.75],[1.18,324.75],[.78,325.75],[1.06,326.75],[1.00,327.75],[.90,328.75],[1.23,329.75],[.86,330.75],[1.14,331.75],[.97,332.75],[1.02,333.75],[.83,334.75],[1.27,335.75],[.95,336.75],[1.08,337.75],[.88,338.75],[1.20,339.75],
[.92,340.75],[1.04,341.75],[.80,342.75],[1.16,343.75],[.98,344.75],[1.11,345.75],[.85,346.75],[1.24,347.75],[.94,348.75],[1.01,349.75],[.89,350.75],[1.19,351.75],[.79,352.75],[1.07,353.75],[.96,354.75],[1.26,355.75],[.87,356.75],[1.13,357.75],[1.00,358.75],[.83,359.75]];

const FONT = 'DejaVu Sans';
const RED = '#d62728';
const gridPos = [[112,114],[607,114],[112,574],[607,574]];
const SIDE = 364;

const chart = echarts.init(document.getElementById('chart'));

const fmtMinus = s => String(s).replace('-', '\u2212');

const grids = gridPos.map(p => ({
  left: p[0], top: p[1], width: SIDE, height: SIDE,
  show: true, borderColor: '#000', borderWidth: 1, backgroundColor: 'transparent'
}));

const xAxes = gridPos.map((p, i) => ({
  type: 'value', gridIndex: i, min: -1.8, max: 1.8,
  name: 'I', nameLocation: 'middle', nameGap: 33,
  nameTextStyle: {fontFamily: FONT, fontSize: 16, color: '#000'},
  axisLine: {onZero: false, lineStyle: {color: '#000', width: 1}},
  axisTick: {show: true, inside: false, length: 5, customValues: xTicks, lineStyle: {color: '#000'}},
  axisLabel: {customValues: xTicks, margin: 10, fontFamily: FONT, fontSize: 16, color: '#000', formatter: v => fmtMinus(v)},
  splitLine: {show: true, lineStyle: {color: '#e4e4e4', width: 1}}
}));

const yAxes = gridPos.map((p, i) => ({
  type: 'value', gridIndex: i, min: -1.8, max: 1.8,
  name: 'Q', nameLocation: 'middle', nameGap: 58,
  nameTextStyle: {fontFamily: FONT, fontSize: 16, color: '#000'},
  axisLine: {onZero: false, lineStyle: {color: '#000', width: 1}},
  axisTick: {show: true, inside: false, length: 5, customValues: yTicks, lineStyle: {color: '#000'}},
  axisLabel: {customValues: yTicks, margin: 12, fontFamily: FONT, fontSize: 16, color: '#000', formatter: v => fmtMinus(v.toFixed(1))},
  splitLine: {show: true, lineStyle: {color: '#e4e4e4', width: 1}}
}));

const noisyStyle = {color: RED, opacity: 0.55, borderColor: RED, borderWidth: 1};
const crossPath = 'path://M2,0L6,4L10,0L12,2L8,6L12,10L10,12L6,8L2,12L0,10L4,6L0,2Z';

function cross(i) {
  return {
    type: 'scatter', xAxisIndex: i, yAxisIndex: i, data: idealPts,
    symbol: crossPath, symbolSize: 15, itemStyle: {color: '#000', opacity: 1}, z: 5, silent: true,
    markLine: {
      silent: true, symbol: 'none', label: {show: false},
      lineStyle: {color: '#111', width: 0.8, type: 'solid', opacity: 1},
      data: [{xAxis: 0}, {yAxis: 0}]
    }
  };
}

function cloud(i, data) {
  return {
    type: 'scatter', xAxisIndex: i, yAxisIndex: i, data: data,
    symbolSize: 5.5, itemStyle: noisyStyle, silent: true, z: 2, large: false
  };
}

const series = [
  cloud(0, idealPts), cross(0),
  cloud(1, awgn10UL.concat(awgn10UR, awgn10LL, awgn10LR)), cross(1),
  cloud(2, awgn4UL.concat(awgn4UR, awgn4LL, awgn4LR)), cross(2),
  {
    type: 'scatter', coordinateSystem: 'polar', polarIndex: 0, data: cfoRingA.concat(cfoRingB, cfoRingC),
    symbolSize: 5.5, itemStyle: noisyStyle, silent: true, z: 2, large: false
  },
  cross(3)
];

const titleGraphics = panelTitles.map((t, i) => ({
  type: 'text', x: gridPos[i][0] + SIDE / 2, y: gridPos[i][1] - 16,
  style: {text: t, fontFamily: FONT, fontSize: 20, fill: '#000', textAlign: 'center', textVerticalAlign: 'middle'}
}));
titleGraphics.push({
  type: 'text', x: 504, y: 31,
  style: {text: 'Gray QPSK constellation under impairments', fontFamily: FONT, fontSize: 22, fill: '#000', textAlign: 'center', textVerticalAlign: 'middle'}
});

chart.setOption({
  animation: false,
  backgroundColor: '#fff',
  grid: grids,
  xAxis: xAxes,
  yAxis: yAxes,
  polar: {center: [gridPos[3][0] + SIDE / 2, gridPos[3][1] + SIDE / 2], radius: SIDE / 2},
  radiusAxis: {polarIndex: 0, min: 0, max: 1.8, show: false},
  angleAxis: {polarIndex: 0, min: 0, max: 360, startAngle: 0, clockwise: false, show: false},
  graphic: titleGraphics,
  series: series
});
</script>
</body>
</html>
